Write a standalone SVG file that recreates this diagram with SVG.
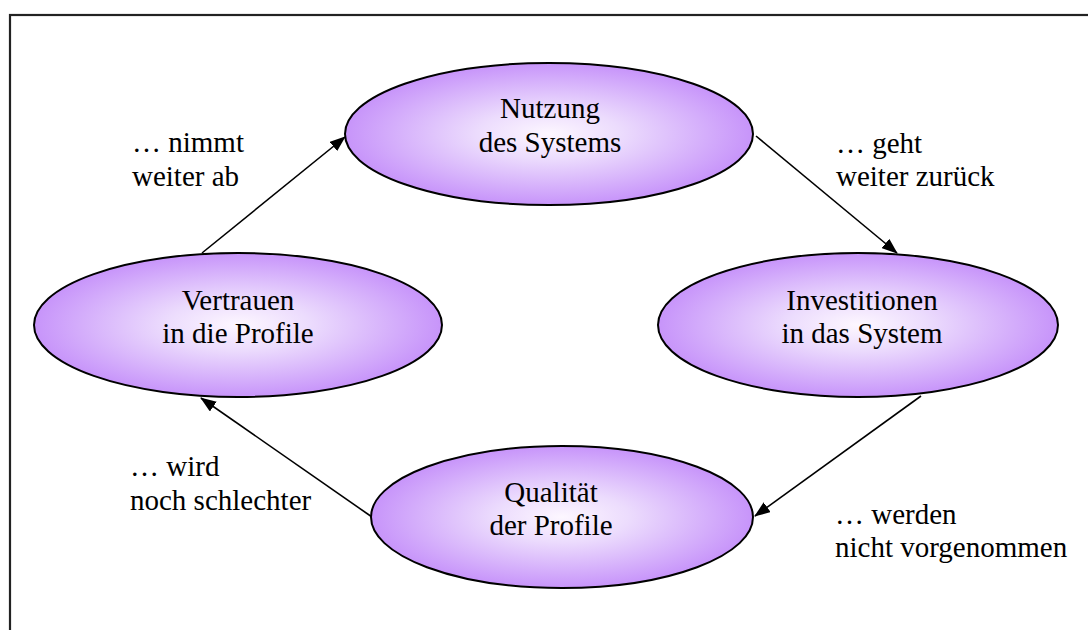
<svg xmlns="http://www.w3.org/2000/svg" width="1088" height="630" viewBox="0 0 1088 630">
  <style>
    .node { stroke: #000; stroke-width: 2; fill: url(#lavender); }
    .mid { text-anchor: middle; }
    .edge { stroke: #000; stroke-width: 1.6; fill: none; marker-end: url(#head); }
  </style>
  <defs>
    <radialGradient id="lavender" cx="0.5" cy="0.5" r="0.5">
      <stop offset="0" stop-color="#fdf7ff"/>
      <stop offset="0.35" stop-color="#ecdcfd"/>
      <stop offset="1" stop-color="#c794fa"/>
    </radialGradient>
    <marker id="head" markerUnits="userSpaceOnUse" markerWidth="16" markerHeight="12" refX="15" refY="6" orient="auto">
      <path d="M0,0 L16,6 L0,12 z" fill="#000"/>
    </marker>
  </defs>

  <rect x="0" y="0" width="1088" height="630" fill="#fff"/>
  <!-- frame -->
  <rect x="10" y="15" width="1100" height="640" fill="none" stroke="#222" stroke-width="2.2"/>

  <g id="connectors">
    <line class="edge" x1="202" y1="253" x2="345" y2="137"/>
    <line class="edge" x1="756" y1="136" x2="897" y2="253"/>
    <line class="edge" x1="921" y1="396" x2="755" y2="516"/>
    <line class="edge" x1="372" y1="517" x2="201" y2="398"/>
  </g>

  <g font-family="Liberation Serif, Times New Roman, DejaVu Serif, serif" font-size="29" fill="#000">
    <g id="nutzung">
      <ellipse class="node" cx="549" cy="134" rx="204" ry="71"/>
      <text class="mid" x="550" y="118">Nutzung</text>
      <text class="mid" x="550" y="152">des Systems</text>
    </g>

    <g id="investitionen">
      <ellipse class="node" cx="858" cy="325" rx="200" ry="72"/>
      <text class="mid" x="862" y="310">Investitionen</text>
      <text class="mid" x="862" y="343">in das System</text>
    </g>

    <g id="qualitaet">
      <ellipse class="node" cx="562" cy="517" rx="191" ry="71"/>
      <text class="mid" x="551" y="502">Qualität</text>
      <text class="mid" x="551" y="535">der Profile</text>
    </g>

    <g id="vertrauen">
      <ellipse class="node" cx="238" cy="325" rx="204" ry="72"/>
      <text class="mid" x="238" y="310">Vertrauen</text>
      <text class="mid" x="238" y="343">in die Profile</text>
    </g>

    <g id="edge-labels">
      <text x="132" y="152">… nimmt</text>
      <text x="132" y="186">weiter ab</text>
      <text x="836" y="153">… geht</text>
      <text x="836" y="186">weiter zurück</text>
      <text x="835" y="524">… werden</text>
      <text x="835" y="557">nicht vorgenommen</text>
      <text x="130" y="476">… wird</text>
      <text x="130" y="510">noch schlechter</text>
    </g>
  </g>
</svg>
